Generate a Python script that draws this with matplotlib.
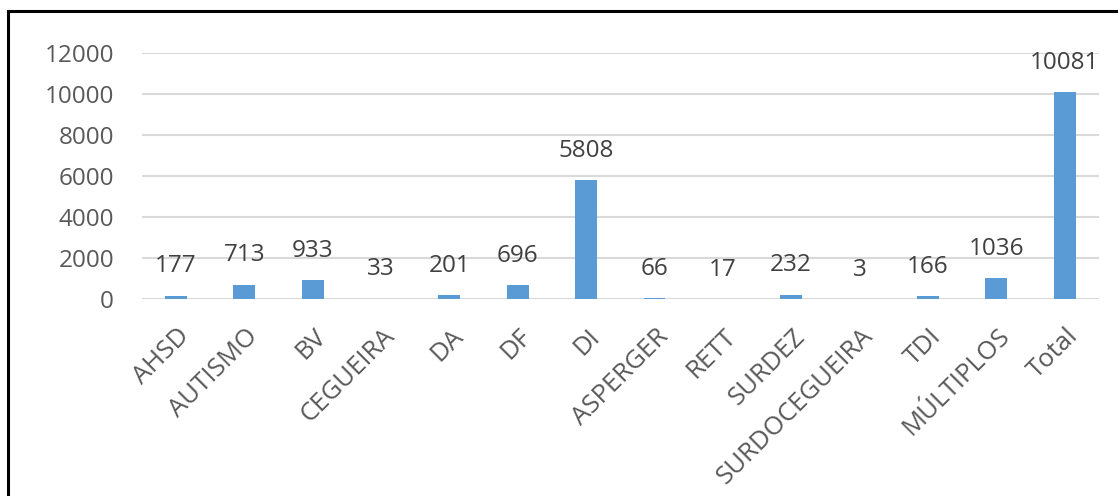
import matplotlib
matplotlib.use("Agg")
import matplotlib.pyplot as plt
from matplotlib.transforms import ScaledTranslation
from matplotlib.lines import Line2D

categories = ["AHSD", "AUTISMO", "BV", "CEGUEIRA", "DA", "DF", "DI", "ASPERGER",
              "RETT", "SURDEZ", "SURDOCEGUEIRA", "TDI", "MÚLTIPLOS", "Total"]
counts = [177, 713, 933, 33, 201, 696, 5808, 66, 17, 232, 3, 166, 1036, 10081]
y_ticks = [0, 2000, 4000, 6000, 8000, 10000, 12000]

BAR = "#5b9bd5"
GRID = "#d9d9d9"
TICK_TXT = "#595959"
LABEL_TXT = "#404040"

plt.rcParams["font.family"] = ["Open Sans", "DejaVu Sans"]

fig = plt.figure(figsize=(11.18, 4.96), dpi=100)
fig.patch.set_facecolor("white")
ax = fig.add_axes([0.1268, 0.3966, 0.856, 0.4972])

x = list(range(len(categories)))
ax.bar(x, counts, width=0.32, color=BAR, zorder=3)

for xi, v in zip(x, counts):
    ax.annotate(str(v), (xi, v), xytext=(0, 21), textcoords="offset points",
                ha="center", va="center", fontsize=17.5, color=LABEL_TXT)

ax.set_xlim(-0.5, len(categories) - 0.5)
ax.set_ylim(0, 12000)
ax.set_yticks(y_ticks)
ax.set_yticklabels([str(t) for t in y_ticks])
ax.yaxis.grid(True, color=GRID, lw=1.5, zorder=0)
ax.set_axisbelow(True)
for s in ax.spines.values():
    s.set_visible(False)
ax.tick_params(axis="y", length=0, pad=20, labelsize=17.5, labelcolor=TICK_TXT)
ax.tick_params(axis="x", length=0, pad=24, labelsize=18.5, labelcolor=TICK_TXT)

ax.set_xticks(x)
ax.set_xticklabels(categories, rotation=45, ha="right", va="center",
                   rotation_mode="anchor")
shift = ScaledTranslation(0.1, 0, fig.dpi_scale_trans)
for lbl in ax.get_xticklabels():
    lbl.set_transform(lbl.get_transform() + shift)

# frame lines on the left and top edges
fig.add_artist(Line2D([0.0072, 0.0072], [0, 0.978], color="black", lw=2.2,
                      transform=fig.transFigure))
fig.add_artist(Line2D([0.0072, 1.0], [0.978, 0.978], color="black", lw=2.2,
                      transform=fig.transFigure))

fig.savefig("out.png", dpi=100, facecolor="white")
